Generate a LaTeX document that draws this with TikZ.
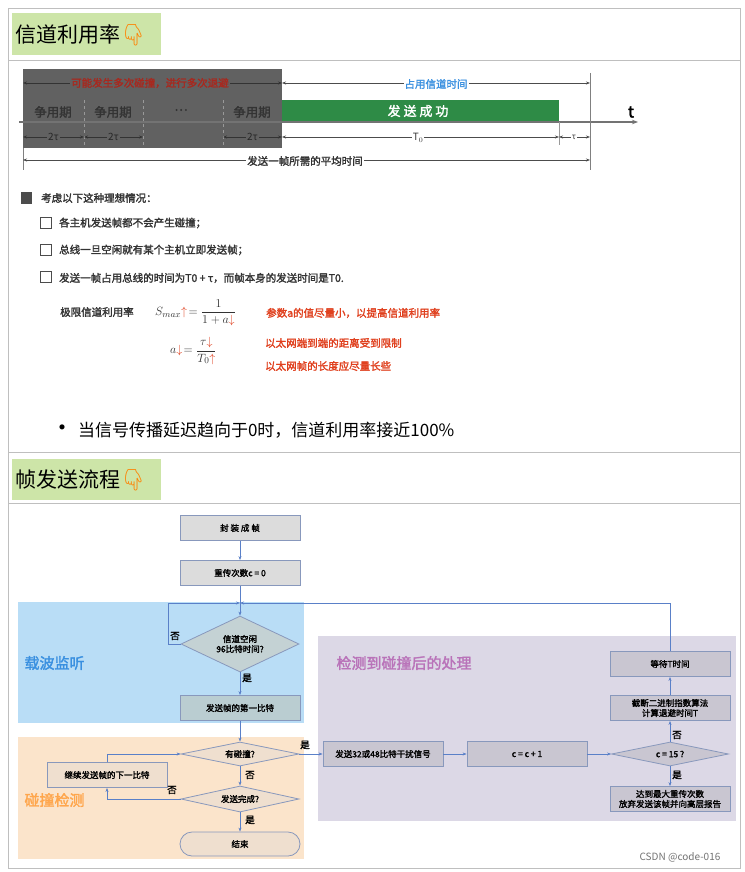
\documentclass[tikz,border=0pt]{standalone}
\usepackage{fontspec}
\setmainfont{Noto Sans CJK SC}
\newfontfamily\emo{Noto Emoji}
\newfontfamily\cjkb[FakeBold=2]{Noto Sans CJK SC}
\usetikzlibrary{shapes.geometric,arrows.meta}
\definecolor{hdr}{HTML}{CDE5A8}
\definecolor{gbar}{HTML}{2E8B46}
\definecolor{dred}{HTML}{A8281E}
\definecolor{lred}{HTML}{E0401E}
\definecolor{lblue}{HTML}{3A90E0}
\definecolor{bord}{HTML}{8898BC}
\definecolor{bxg}{HTML}{DCDCDC}
\definecolor{blreg}{HTML}{B9DDF6}
\definecolor{orreg}{HTML}{FBE4CB}
\definecolor{pureg}{HTML}{DCD8E6}
\definecolor{flow}{HTML}{5A80C8}
\tikzset{
 box/.style={draw=bord,line width=0.8pt,fill=bxg,minimum width=120pt,minimum height=25pt,inner sep=1pt,font=\cjkb\fontsize{8.5}{10}\selectfont,align=center},
 dia/.style={diamond,aspect=2.1,draw=bord,line width=0.8pt,inner sep=0pt,font=\cjkb\fontsize{8.5}{10}\selectfont,align=center},
 fl/.style={draw=flow,line width=0.8pt,-{Stealth[length=4pt]}},
 lab/.style={font=\cjkb\fontsize{9.5}{10}\selectfont,inner sep=0pt},
 dim/.style={draw=black!70,line width=0.9pt,{Stealth[length=4pt]}-{Stealth[length=4pt]}},
 t1/.style={font=\cjkb\fontsize{10.5}{12}\selectfont,inner sep=1pt},
 chk/.style={draw=black!70,line width=0.9pt,minimum size=11pt,inner sep=0pt},
}
\begin{document}
\begin{tikzpicture}[x=1pt,y=-1pt]
\useasboundingbox (0,0) rectangle (744,872);
\fill[white] (0,0) rectangle (744,872);
% table
\draw[black!25,line width=0.8pt] (8,8) rectangle (740,868);
\foreach \yy in {60,452,503}{\draw[black!25,line width=0.8pt] (8,\yy) -- (740,\yy);}
\fill[hdr] (12,13) rectangle (161,55);
\node[anchor=west,inner sep=0pt,font=\fontsize{21}{24}\selectfont] (h1) at (15,35) {信道利用率{\emo\color{orange}👇}};
\fill[hdr] (12,459) rectangle (161,500);
\node[anchor=west,inner sep=0pt,font=\fontsize{21}{24}\selectfont] (h2) at (15,480) {帧发送流程{\emo\color{orange}👇}};
% ---- timing figure
\fill[black!62] (23,69) rectangle (282,148);
\fill[gbar] (282,100) rectangle (559,122);
\draw[black!55,line width=1.6pt,-{Stealth[length=6pt]}] (19,122) -- (638,122);
\node[font=\cjkb\fontsize{16}{16}\selectfont] (tt) at (631,112) {t};
\foreach \xx in {84,143,223}{\draw[black!40,dashed,line width=0.6pt] (\xx,100) -- (\xx,147);}
\node[t1,font=\cjkb\fontsize{12.5}{13}\selectfont,text=black!80] (z1) at (53,112) {争用期};
\node[t1,font=\cjkb\fontsize{12.5}{13}\selectfont,text=black!80] (z2) at (113,112) {争用期};
\node[t1,font=\cjkb\fontsize{12.5}{13}\selectfont,text=black!80] (z3) at (181,110) {…};
\node[t1,font=\cjkb\fontsize{12.5}{13}\selectfont,text=black!80] (z4) at (252,112) {争用期};
\node[t1,font=\cjkb\fontsize{13}{13}\selectfont,text=white] (ok) at (418,111) {发 送 成 功};
\draw[dim,draw=black!80] (23,83) -- (282,83);
\node[t1,fill=black!62,text=dred] (rt) at (150,83) {可能发生多次碰撞，进行多次退避};
\draw[dim] (282,83) -- (590,83);
\node[t1,fill=white,text=lblue] (bt) at (436,84) {占用信道时间};
\draw[black!50,line width=0.8pt] (590,73) -- (590,170);
\draw[black!50,line width=0.8pt] (23,148) -- (23,170);
\draw[black!40,line width=0.6pt] (559,122) -- (559,145);
\foreach \a/\b in {23/84,84/143,223/282}{
 \draw[dim,draw=black!80] (\a,137) -- (\b,137);
 \node[font=\fontsize{10}{10}\selectfont,fill=black!62,inner sep=1pt,text=black!85] at ({(\a+\b)/2},137) {2τ};}
\draw[dim] (282,137) -- (559,137);
\node[font=\fontsize{10}{10}\selectfont,fill=white,inner sep=1pt,text=black!80] (t0) at (418,138) {T$_0$};
\draw[dim] (559,137) -- (590,137);
\node[font=\fontsize{8}{8}\selectfont,fill=white,inner sep=0.5pt,text=black!80] (ta) at (574,137) {τ};
\draw[dim] (23,160) -- (590,160);
\node[t1,fill=white,text=black!80] (avg) at (305,161) {发送一帧所需的平均时间};
% ---- text
\fill[black!70] (21,192) rectangle (32,204);
\node[t1,anchor=west,text=black!80] (c0) at (40,198) {考虑以下这种理想情况：};
\node[chk] (k1) at (46,223) {};
\node[t1,anchor=west,text=black!80] (c1) at (58,223) {各主机发送帧都不会产生碰撞；};
\node[chk] (k2) at (46,250) {};
\node[t1,anchor=west,text=black!80] (c2) at (58,250) {总线一旦空闲就有某个主机立即发送帧；};
\node[chk] (k3) at (46,277) {};
\node[t1,anchor=west,text=black!80] (c3) at (58,278) {发送一帧占用总线的时间为T0 + τ，而帧本身的发送时间是T0.};
\node[t1,anchor=west,text=black!80] (f1) at (59,312) {极限信道利用率};
\node[anchor=west,inner sep=0pt,text=black!80,font=\fontsize{13}{14}\selectfont] (f2) at (155,313) {$\displaystyle S_{max}{\color{lred}\uparrow}\!=\frac{1}{1+a{\color{lred}\downarrow}}$};
\node[t1,anchor=west,text=lred] (r1) at (265,313) {参数a的值尽量小，以提高信道利用率};
\node[anchor=west,inner sep=0pt,text=black!80,font=\fontsize{13}{14}\selectfont] (f3) at (170,351) {$\displaystyle a{\color{lred}\downarrow}\!=\frac{\tau{\color{lred}\downarrow}}{T_0{\color{lred}\uparrow}}$};
\node[t1,anchor=west,text=lred] (r2) at (264,343) {以太网端到端的距离受到限制};
\node[t1,anchor=west,text=lred] (r3) at (264,366) {以太网帧的长度应尽量长些};
\node[anchor=west,inner sep=0pt,font=\fontsize{17}{20}\selectfont] (bl) at (50,430) {{\fontsize{24}{20}\selectfont•} 当信号传播延迟趋向于0时，信道利用率接近100\%};
% ---- flowchart regions
\fill[blreg] (18,602) rectangle (304,723);
\fill[orreg] (18,737) rectangle (304,859);
\fill[pureg] (318,636) rectangle (736,821);
\node[font=\cjkb\fontsize{15}{16}\selectfont,text=lblue,anchor=west] (ra) at (21,663) {载波监听};
\node[font=\cjkb\fontsize{15}{16}\selectfont,text=orange!70,anchor=west] (rb) at (21,800) {碰撞检测};
\node[font=\cjkb\fontsize{15}{16}\selectfont,text=violet!55,anchor=west] (rc) at (333,663) {检测到碰撞后的处理};
% nodes
\node[box] (n1) at (240,528) {封 装 成 帧};
\node[box] (n2) at (240,573) {重传次数c = 0};
\node[dia,fill=blue!10!cyan!15!gray!40,minimum width=118pt,minimum height=56pt] (d1) at (240,644) {信道空闲\\96比特时间?};
\node[box,fill=blue!20!cyan!20!gray!45] (n3) at (240,708) {发送帧的第一比特};
\node[dia,fill=brown!25,minimum width=118pt,minimum height=24pt] (d2) at (240,754) {有碰撞?};
\node[dia,fill=brown!25,minimum width=118pt,minimum height=24pt] (d3) at (240,799) {发送完成?};
\node[box,fill=brown!25] (n4) at (107,775) {继续发送帧的下一比特};
\node[box,fill=brown!25,rounded corners=12pt,minimum height=24pt] (n5) at (240,844) {结束};
\node[box,fill=pureg!80!gray] (p1) at (383,754) {发送32或48比特干扰信号};
\node[box,fill=pureg!80!gray] (p2) at (527,754) {c = c + 1};
\node[dia,fill=pureg!80!gray,minimum width=117pt,minimum height=24pt] (d4) at (670,754) {c = 15 ?};
\node[box,fill=pureg!80!gray] (p3) at (670,708) {截断二进制指数算法\\计算退避时间T};
\node[box,fill=pureg!80!gray] (p4) at (670,664) {等待T时间};
\node[box,fill=pureg!80!gray] (p5) at (670,799) {达到最大重传次数\\放弃发送该帧并向高层报告};
\coordinate (j) at (240,603);
% edges
\draw[fl] (n1) -- (n2);
\draw[fl] (n2) -- (d1);
\draw[fl] (d1.west) -- (168,644) -- (168,603) -- (j);
\draw[fl] (p4.north) |- (j);
\draw[fl] (d1) -- (n3);
\draw[fl] (n3) -- (d2);
\draw[fl] (d2) -- (d3);
\draw[fl] (d3) -- (n5);
\draw[fl] (d3.west) -| (n4.south);
\draw[fl] (n4.north) |- (d2.west);
\draw[fl] (d2.east) -- (p1);
\draw[fl] (p1) -- (p2);
\draw[fl] (p2) -- (d4);
\draw[fl] (d4) -- (p3);
\draw[fl] (p3) -- (p4);
\draw[fl] (d4) -- (p5);
\node[lab] at (175,636) {否};
\node[lab] at (247,678) {是};
\node[lab] at (305,745) {是};
\node[lab] at (250,775) {否};
\node[lab] at (172,790) {否};
\node[lab] at (250,820) {是};
\node[lab] at (677,735) {否};
\node[lab] at (677,775) {是};
\node[font=\fontsize{10}{11}\selectfont,text=black!55] (cs) at (680,857) {CSDN @code-016};
\end{tikzpicture}
\end{document}
